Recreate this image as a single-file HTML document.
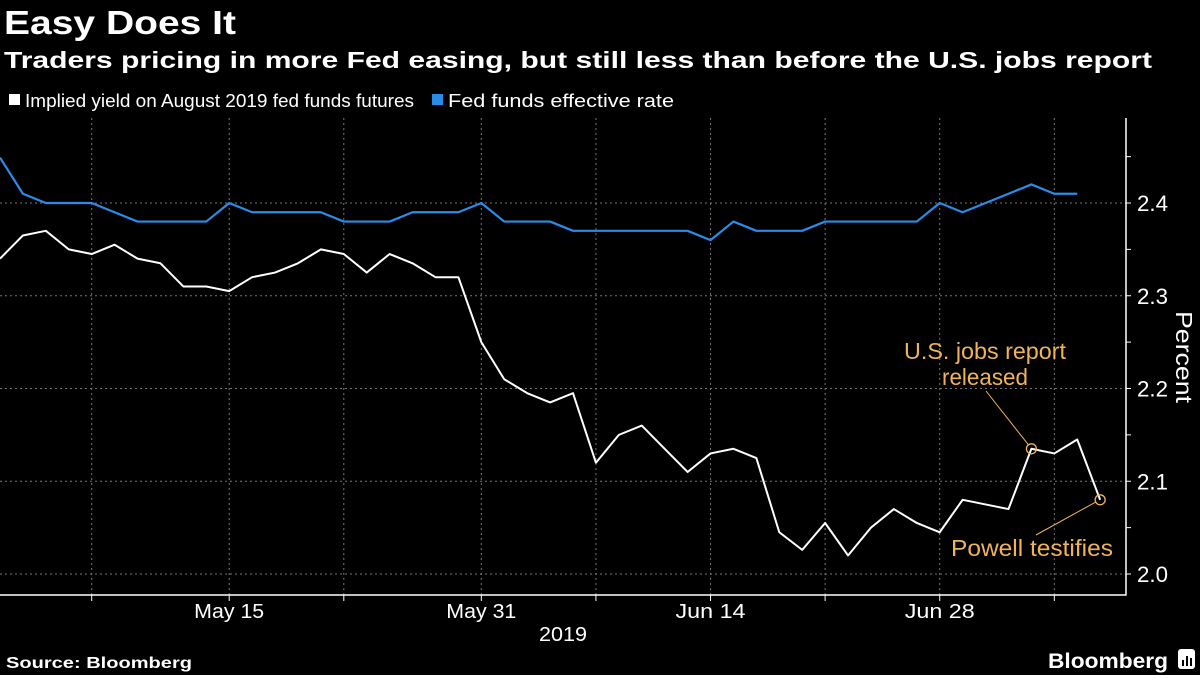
<!DOCTYPE html>
<html><head><meta charset="utf-8"><style>
html,body{margin:0;padding:0;background:#000;}
svg{display:block;font-family:"Liberation Sans",sans-serif;}
</style></head><body>
<svg id="chart" width="1200" height="675" viewBox="0 0 1200 675">
<rect width="1200" height="675" fill="#000"/>
<text x="4" y="34" fill="#fff" font-size="33" font-weight="bold" textLength="232" lengthAdjust="spacingAndGlyphs">Easy Does It</text>
<text x="4" y="68" fill="#fff" font-size="23" font-weight="bold" textLength="1148" lengthAdjust="spacingAndGlyphs">Traders pricing in more Fed easing, but still less than before the U.S. jobs report</text>
<g>
<g><rect x="9" y="94" width="11" height="11" fill="#fff"/><text x="25" y="107" fill="#fff" font-size="18" textLength="389" lengthAdjust="spacingAndGlyphs">Implied yield on August 2019 fed funds futures</text></g>
<g><rect x="432" y="94" width="11" height="11" fill="#2b8ce8"/><text x="448" y="107" fill="#fff" font-size="18" textLength="226" lengthAdjust="spacingAndGlyphs">Fed funds effective rate</text></g>
</g>
<g id="grid"></g>
<g id="axes"></g>
<g id="series"></g>
<g fill="#f0b35a" font-size="23">
<text x="985" y="359" text-anchor="middle" textLength="162" lengthAdjust="spacingAndGlyphs">U.S. jobs report</text>
<text x="985" y="385" text-anchor="middle" textLength="86" lengthAdjust="spacingAndGlyphs">released</text>
<text x="951" y="556" textLength="162" lengthAdjust="spacingAndGlyphs">Powell testifies</text>
</g>
<text transform="translate(1176,357) rotate(90)" text-anchor="middle" fill="#fff" font-size="23" textLength="92" lengthAdjust="spacingAndGlyphs">Percent</text>
<text x="563" y="641" text-anchor="middle" fill="#fff" font-size="20" textLength="48" lengthAdjust="spacingAndGlyphs">2019</text>
<text x="6" y="668" fill="#fff" font-size="16" font-weight="bold" textLength="186" lengthAdjust="spacingAndGlyphs">Source: Bloomberg</text>
<text x="1048" y="668" fill="#fff" font-size="21" font-weight="bold" textLength="120" lengthAdjust="spacingAndGlyphs">Bloomberg</text>
<g><rect x="1178" y="649" width="17" height="20" rx="3" fill="#fff"/><rect x="1182" y="660" width="2" height="6" fill="#000"/><rect x="1186" y="656" width="2" height="10" fill="#000"/><rect x="1190" y="658" width="2" height="8" fill="#000"/></g>
</svg>
<script>
const whiteValues=[2.34,2.365,2.37,2.35,2.345,2.355,2.34,2.335,2.31,2.31,2.305,2.32,2.325,2.335,2.35,2.345,2.325,2.345,2.335,2.32,2.32,2.25,2.21,2.195,2.185,2.195,2.12,2.15,2.16,2.135,2.11,2.13,2.135,2.125,2.045,2.026,2.055,2.02,2.05,2.07,2.055,2.045,2.08,2.075,2.07,2.135,2.13,2.145,2.08];
const blueValues=[2.449,2.41,2.40,2.40,2.40,2.39,2.38,2.38,2.38,2.38,2.40,2.39,2.39,2.39,2.39,2.38,2.38,2.38,2.39,2.39,2.39,2.40,2.38,2.38,2.38,2.37,2.37,2.37,2.37,2.37,2.37,2.36,2.38,2.37,2.37,2.37,2.38,2.38,2.38,2.38,2.38,2.40,2.39,2.40,2.41,2.42,2.41,2.41];
const yTicks=[2.0,2.1,2.2,2.3,2.4];
const xTickLabels=["May 15","May 31","Jun 14","Jun 28"];
const xTickIndex=[10,21,31,41];
const xMinorIndex=[4,15,26,36,46];
const annotationIndex=[45,48];
const NS="http://www.w3.org/2000/svg";
const X=i=>i*22.92;
const Y=v=>574-(v-2.0)*927.5;
const grid=document.getElementById('grid'),axes=document.getElementById('axes'),series=document.getElementById('series');
function mk(tag,attrs,parent){const e=document.createElementNS(NS,tag);for(const k in attrs)e.setAttribute(k,attrs[k]);parent.appendChild(e);return e;}
yTicks.forEach(v=>{
  const l=mk('line',{x1:0,x2:1126,y1:Y(v),y2:Y(v),stroke:'#777','stroke-dasharray':'2,3','stroke-width':1},grid);
  
  
  const t=mk('text',{x:1137,y:Y(v)+8,fill:'#fff','font-size':22,textLength:31,lengthAdjust:'spacingAndGlyphs'},axes);
  t.textContent=v.toFixed(1);
  
  
  mk('line',{x1:1126,x2:1131,y1:Y(v),y2:Y(v),stroke:'#fff'},axes);
  mk('line',{x1:1126,x2:1131,y1:Y(v+0.05),y2:Y(v+0.05),stroke:'#fff'},axes);
});
xTickIndex.concat(xMinorIndex).forEach(i=>{
  const l=mk('line',{x1:X(i),x2:X(i),y1:118,y2:595,stroke:'#777','stroke-dasharray':'2,3','stroke-width':1},grid);
  
  
  mk('line',{x1:X(i),x2:X(i),y1:595,y2:601,stroke:'#fff'},axes);
});
xTickIndex.forEach((i,k)=>{
  const t=mk('text',{x:X(i),y:618,fill:'#fff','font-size':20,'text-anchor':'middle',textLength:70,lengthAdjust:'spacingAndGlyphs'},axes);
  t.textContent=xTickLabels[k];
  
  
});
mk('line',{x1:0,x2:1126.5,y1:595,y2:595,stroke:'#fff','stroke-width':1.5},axes);
mk('line',{x1:1126,x2:1126,y1:118,y2:595.5,stroke:'#fff','stroke-width':1.5},axes);
const bp=mk('polyline',{points:blueValues.map((v,i)=>X(i)+','+Y(v)).join(' '),fill:'none',stroke:'#2b8ce8','stroke-width':2.2,'stroke-linejoin':'round'},series);


const wp=mk('polyline',{points:whiteValues.map((v,i)=>X(i)+','+Y(v)).join(' '),fill:'none',stroke:'#fff','stroke-width':2,'stroke-linejoin':'round'},series);


const a1x=X(annotationIndex[0]),a1y=Y(whiteValues[annotationIndex[0]]);
const a2x=X(annotationIndex[1]),a2y=Y(whiteValues[annotationIndex[1]]);
mk('line',{x1:986,y1:391,x2:a1x-3,y2:a1y-4,stroke:'#f0b35a','stroke-width':1},series);
mk('line',{x1:1036,y1:535,x2:a2x-4,y2:a2y+2,stroke:'#f0b35a','stroke-width':1},series);
const c1=mk('circle',{cx:a1x,cy:a1y,r:5,fill:'none',stroke:'#f0b35a','stroke-width':1.3},series);


const c2=mk('circle',{cx:a2x,cy:a2y,r:5,fill:'none',stroke:'#f0b35a','stroke-width':1.3},series);


</script>
</body></html>
